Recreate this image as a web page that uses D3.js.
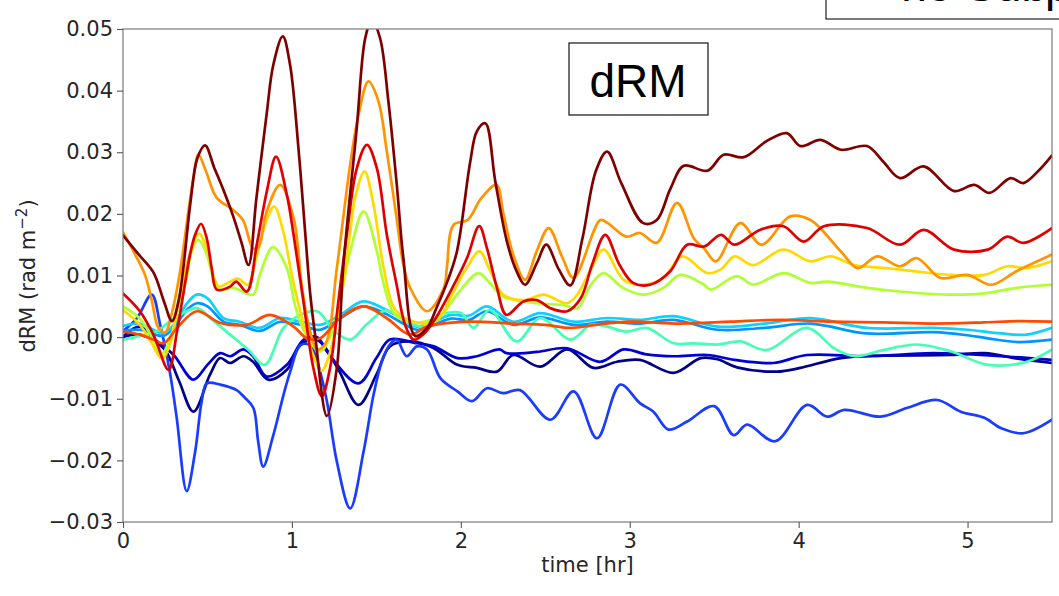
<!DOCTYPE html>
<html>
<head>
<meta charset="utf-8">
<script src="https://cdn.jsdelivr.net/npm/d3@7"></script>
<style>
  html, body { margin: 0; padding: 0; background: #fff; }
  svg { display: block; }
</style>
</head>
<body>
<svg id="chart" width="1059" height="596"></svg>
<script>
// ---- data: [time (hr), dRM (rad m^-2)] ----
const xTicks = [0, 1, 2, 3, 4, 5];
const yTicks = [-0.03, -0.02, -0.01, 0.00, 0.01, 0.02, 0.03, 0.04, 0.05];

const navy = [[0,0.0],[0.1,0.0004],[0.24,-0.0018],[0.33,-0.007],[0.417,-0.0121],[0.515,-0.0061],[0.575,-0.0034],[0.634,-0.0042],[0.713,-0.0031],[0.77,-0.004],[0.86,-0.0069],[0.97,-0.0053],[1.05,-0.0013],[1.147,-0.0004],[1.27,-0.005],[1.394,-0.011],[1.5,-0.0061],[1.58,-0.0015],[1.7,-0.0007],[1.84,-0.0018],[1.98,-0.0045],[2.095,-0.005],[2.214,-0.0056],[2.31,-0.0029],[2.47,-0.0048],[2.63,-0.002],[2.786,-0.005],[2.925,-0.004],[3.06,-0.0037],[3.26,-0.0058],[3.42,-0.0034],[3.52,-0.0036],[3.635,-0.0049],[3.87,-0.0056],[4.01,-0.005],[4.25,-0.0034],[4.5,-0.003],[4.9,-0.0029],[5.1,-0.0026],[5.3,-0.0035],[5.5,-0.0042]];

const darkBlue = [[0,0.0001],[0.1,0.0017],[0.18,-0.0002],[0.3,-0.0029],[0.417,-0.0069],[0.5,-0.0045],[0.575,-0.0026],[0.634,-0.0031],[0.713,-0.002],[0.77,-0.0031],[0.85,-0.0064],[0.97,-0.0045],[1.07,-0.0004],[1.15,0.0],[1.207,-0.0023],[1.394,-0.0075],[1.5,-0.0034],[1.58,-0.0004],[1.74,-0.001],[1.84,-0.0015],[1.98,-0.0034],[2.095,-0.0031],[2.23,-0.002],[2.27,-0.0026],[2.45,-0.0024],[2.63,-0.0018],[2.826,-0.004],[2.964,-0.002],[3.1,-0.0028],[3.26,-0.0031],[3.46,-0.0029],[3.62,-0.0037],[3.85,-0.0042],[4.05,-0.0029],[4.4,-0.0031],[4.8,-0.0026],[5.2,-0.0031],[5.5,-0.0037]];

const blue = [[0,0.001],[0.08,0.003],[0.17,0.0069],[0.22,0.002],[0.28,-0.0061],[0.318,-0.0131],[0.377,-0.025],[0.427,-0.0186],[0.466,-0.0104],[0.496,-0.0075],[0.575,-0.0077],[0.673,-0.0086],[0.72,-0.0098],[0.772,-0.0115],[0.80,-0.0169],[0.83,-0.021],[0.89,-0.0159],[0.95,-0.0094],[0.99,-0.0056],[1.05,-0.0013],[1.107,-0.0013],[1.15,-0.004],[1.207,-0.0104],[1.266,-0.0202],[1.345,-0.0278],[1.424,-0.0186],[1.483,-0.0094],[1.532,-0.004],[1.58,-0.0012],[1.62,-0.0004],[1.68,-0.0031],[1.74,-0.0015],[1.8,-0.002],[1.88,-0.0067],[1.98,-0.0088],[2.066,-0.0104],[2.155,-0.0083],[2.25,-0.0091],[2.35,-0.0086],[2.53,-0.0134],[2.668,-0.0088],[2.806,-0.0164],[2.944,-0.0077],[3.06,-0.0107],[3.14,-0.0121],[3.23,-0.015],[3.34,-0.0137],[3.5,-0.0112],[3.615,-0.0159],[3.695,-0.0142],[3.86,-0.0169],[4.05,-0.011],[4.17,-0.0129],[4.27,-0.0118],[4.485,-0.0129],[4.64,-0.0115],[4.82,-0.0102],[4.96,-0.0121],[5.1,-0.0131],[5.2,-0.0148],[5.33,-0.0156],[5.5,-0.0134]];

const dodger = [[0,0.001],[0.1,0.0012],[0.18,0.0005],[0.24,0.0002],[0.30,0.0015],[0.38,0.0045],[0.437,0.0055],[0.5,0.005],[0.595,0.0025],[0.69,0.002],[0.81,0.001],[0.93,0.0025],[1.05,0.002],[1.167,0.0012],[1.285,0.003],[1.42,0.005],[1.54,0.004],[1.64,0.0025],[1.74,0.0012],[1.84,0.002],[1.94,0.003],[2.05,0.0028],[2.155,0.0042],[2.31,0.002],[2.47,0.0032],[2.668,0.002],[2.865,0.0025],[3.06,0.0022],[3.26,0.0028],[3.52,0.0012],[3.8,0.0015],[4.07,0.0022],[4.4,0.0006],[4.8,0.0008],[5.0,0.0003],[5.12,-0.0002],[5.3,-0.0008],[5.5,-0.0004]];

const cyan = [[0,0.0018],[0.1,0.0022],[0.18,0.0012],[0.24,0.0006],[0.30,0.002],[0.38,0.0055],[0.437,0.0069],[0.5,0.0063],[0.595,0.0031],[0.69,0.0025],[0.81,0.0015],[0.93,0.0031],[1.05,0.0025],[1.167,0.002],[1.285,0.0036],[1.42,0.0058],[1.54,0.0047],[1.64,0.0031],[1.74,0.0017],[1.84,0.0025],[1.94,0.0036],[2.05,0.0035],[2.155,0.005],[2.31,0.0025],[2.47,0.0039],[2.668,0.0025],[2.865,0.0031],[3.06,0.0028],[3.26,0.0034],[3.52,0.0017],[3.8,0.0022],[4.07,0.0031],[4.4,0.0015],[4.8,0.0015],[5.0,0.0012],[5.2,0.0006],[5.35,0.0004],[5.5,0.0015]];

const aqua = [[0,-0.0004],[0.1,0.0002],[0.2,0.001],[0.3,0.003],[0.437,0.0047],[0.52,0.003],[0.634,0.0004],[0.74,-0.002],[0.84,-0.0045],[0.95,0.0015],[1.05,0.0036],[1.15,0.0042],[1.25,0.001],[1.345,-0.0004],[1.44,0.002],[1.54,0.0042],[1.58,0.0042],[1.68,0.0025],[1.78,0.0017],[1.88,0.0036],[2.0,0.0039],[2.075,0.0015],[2.17,0.0044],[2.33,-0.0007],[2.47,0.0031],[2.65,-0.0004],[2.77,0.002],[2.865,0.0017],[2.98,0.0009],[3.1,0.0015],[3.26,-0.001],[3.38,-0.001],[3.52,-0.0012],[3.655,-0.0007],[3.81,-0.0021],[4.05,0.0015],[4.21,-0.0018],[4.33,-0.0031],[4.5,-0.0021],[4.7,-0.0012],[4.9,-0.0023],[5.12,-0.0045],[5.35,-0.004],[5.5,-0.002]];

const lime = [[0,0.005],[0.1,0.003],[0.18,-0.0005],[0.22,-0.003],[0.27,-0.001],[0.33,0.005],[0.377,0.0096],[0.407,0.0139],[0.446,0.0158],[0.496,0.0134],[0.535,0.0096],[0.575,0.0077],[0.654,0.008],[0.77,0.0069],[0.81,0.0101],[0.887,0.0146],[0.97,0.0112],[1.02,0.005],[1.08,0.0005],[1.167,-0.0023],[1.24,0.001],[1.30,0.008],[1.345,0.0139],[1.424,0.0204],[1.503,0.0139],[1.54,0.009],[1.60,0.004],[1.68,0.0025],[1.78,0.0025],[1.88,0.0035],[1.98,0.007],[2.105,0.0104],[2.18,0.0085],[2.25,0.0066],[2.45,0.0055],[2.61,0.0052],[2.69,0.0047],[2.77,0.0085],[2.845,0.0104],[2.96,0.008],[3.08,0.0069],[3.2,0.008],[3.3,0.0101],[3.44,0.0085],[3.48,0.0077],[3.635,0.0099],[3.73,0.0085],[3.91,0.0104],[4.07,0.0088],[4.17,0.009],[4.405,0.008],[4.6,0.0074],[4.88,0.0069],[5.1,0.0071],[5.29,0.008],[5.5,0.0085]];

const yellow = [[0,0.0044],[0.1,0.002],[0.17,-0.001],[0.23,-0.0035],[0.28,-0.001],[0.33,0.006],[0.39,0.013],[0.45,0.0168],[0.50,0.014],[0.54,0.0095],[0.57,0.0082],[0.62,0.0088],[0.68,0.0095],[0.74,0.0085],[0.79,0.013],[0.85,0.019],[0.895,0.0212],[0.95,0.017],[1.0,0.01],[1.07,0.002],[1.127,-0.003],[1.175,-0.0055],[1.22,-0.003],[1.30,0.008],[1.345,0.0171],[1.374,0.0226],[1.43,0.0269],[1.483,0.0215],[1.54,0.0117],[1.60,0.005],[1.66,0.0032],[1.72,0.0025],[1.80,0.0022],[1.87,0.003],[1.95,0.007],[2.03,0.011],[2.11,0.0139],[2.17,0.011],[2.25,0.0069],[2.37,0.006],[2.49,0.0069],[2.63,0.0055],[2.69,0.0069],[2.77,0.011],[2.845,0.0142],[2.964,0.0093],[3.08,0.0085],[3.2,0.0096],[3.31,0.0131],[3.46,0.0104],[3.54,0.011],[3.62,0.0131],[3.73,0.0117],[3.91,0.0142],[4.07,0.0123],[4.19,0.0131],[4.33,0.0117],[4.52,0.0112],[4.68,0.0107],[4.9,0.0101],[5.1,0.0101],[5.235,0.0115],[5.35,0.0112],[5.5,0.0123]];

const orange = [[0,0.0170],[0.07,0.0135],[0.13,0.0101],[0.17,0.006],[0.21,0.0015],[0.25,0.0008],[0.29,0.004],[0.338,0.0107],[0.387,0.0204],[0.417,0.0258],[0.446,0.0296],[0.49,0.027],[0.555,0.0226],[0.65,0.0207],[0.71,0.019],[0.77,0.0144],[0.80,0.0145],[0.851,0.0204],[0.93,0.0247],[1.01,0.0193],[1.06,0.008],[1.107,0.001],[1.15,-0.002],[1.2,-0.001],[1.266,0.0112],[1.345,0.028],[1.394,0.036],[1.453,0.0415],[1.512,0.0383],[1.562,0.0301],[1.62,0.0193],[1.66,0.0117],[1.7,0.008],[1.8,0.0042],[1.9,0.008],[1.917,0.0112],[1.957,0.0182],[2.04,0.019],[2.12,0.0225],[2.21,0.0247],[2.253,0.0199],[2.31,0.0134],[2.38,0.0093],[2.45,0.014],[2.52,0.0177],[2.6,0.013],[2.668,0.0096],[2.826,0.019],[2.87,0.0185],[2.98,0.0163],[3.06,0.0169],[3.16,0.0153],[3.28,0.0218],[3.38,0.016],[3.44,0.0144],[3.51,0.0123],[3.655,0.0185],[3.78,0.015],[3.95,0.0196],[4.07,0.019],[4.25,0.0139],[4.35,0.0112],[4.465,0.0131],[4.6,0.0115],[4.70,0.0128],[4.84,0.0096],[5.0,0.0101],[5.14,0.0085],[5.29,0.0107],[5.5,0.0134]];

const orangeRed = [[0,0.0009],[0.1,0.0004],[0.18,-0.0004],[0.24,-0.001],[0.32,0.0015],[0.437,0.0042],[0.575,0.0023],[0.733,0.002],[0.87,0.0036],[1.01,0.0017],[1.09,-0.0002],[1.167,-0.0002],[1.285,0.0031],[1.424,0.005],[1.56,0.0031],[1.7,0.0004],[1.8,0.0017],[2.04,0.0025],[2.3,0.0022],[2.5,0.002],[2.65,0.0015],[2.8,0.002],[3.0,0.0025],[3.3,0.0022],[3.6,0.0025],[3.9,0.0028],[4.2,0.0025],[4.5,0.0024],[4.8,0.0022],[5.1,0.0024],[5.3,0.0026],[5.5,0.0025]];

const red = [[0,0.0071],[0.1,0.0042],[0.18,0.0004],[0.27,-0.0053],[0.32,0.001],[0.36,0.0075],[0.397,0.0134],[0.427,0.0166],[0.462,0.0184],[0.496,0.016],[0.525,0.0112],[0.555,0.0077],[0.634,0.0082],[0.67,0.009],[0.733,0.0074],[0.792,0.015],[0.851,0.0236],[0.906,0.0293],[0.97,0.0231],[1.01,0.0166],[1.068,0.0058],[1.127,-0.005],[1.177,-0.0096],[1.226,-0.005],[1.275,0.0058],[1.325,0.0166],[1.384,0.0274],[1.444,0.0312],[1.503,0.0274],[1.562,0.0166],[1.62,0.0085],[1.67,0.002],[1.72,-0.0004],[1.78,0.0005],[1.85,0.003],[1.95,0.008],[2.036,0.0128],[2.109,0.018],[2.155,0.0144],[2.214,0.008],[2.27,0.0036],[2.37,0.0058],[2.45,0.006],[2.53,0.0047],[2.63,0.0042],[2.71,0.0063],[2.78,0.012],[2.855,0.0166],[2.94,0.0117],[3.02,0.0088],[3.12,0.0085],[3.24,0.0107],[3.34,0.015],[3.44,0.0147],[3.54,0.0166],[3.62,0.015],[3.77,0.0174],[3.91,0.018],[4.03,0.0155],[4.15,0.018],[4.405,0.0177],[4.6,0.015],[4.74,0.0174],[4.92,0.0142],[5.12,0.0142],[5.235,0.0163],[5.33,0.0153],[5.5,0.0177]];

const maroon = [[0,0.0165],[0.09,0.0135],[0.18,0.0105],[0.24,0.006],[0.29,0.0026],[0.33,0.006],[0.357,0.0112],[0.40,0.022],[0.44,0.029],[0.486,0.0311],[0.54,0.0275],[0.59,0.0242],[0.65,0.0198],[0.70,0.0155],[0.743,0.0117],[0.79,0.0226],[0.85,0.0361],[0.89,0.0442],[0.946,0.0488],[0.989,0.0442],[1.0385,0.0307],[1.078,0.0172],[1.107,0.0074],[1.137,0.0004],[1.207,-0.0128],[1.266,-0.005],[1.303,0.011],[1.384,0.034],[1.434,0.0485],[1.473,0.0515],[1.522,0.0485],[1.571,0.0383],[1.621,0.0247],[1.66,0.0128],[1.73,0.0002],[1.8,0.0015],[1.86,0.005],[1.92,0.009],[1.977,0.0139],[2.056,0.0285],[2.095,0.0334],[2.145,0.0347],[2.204,0.0253],[2.273,0.0155],[2.33,0.0107],[2.38,0.0085],[2.45,0.012],[2.506,0.015],[2.58,0.011],[2.648,0.0084],[2.72,0.016],[2.80,0.027],[2.866,0.0301],[2.95,0.025],[3.08,0.0185],[3.16,0.019],[3.24,0.024],[3.32,0.0278],[3.46,0.027],[3.556,0.0296],[3.675,0.0292],[3.81,0.0318],[3.93,0.0331],[4.01,0.031],[4.13,0.032],[4.25,0.0304],[4.405,0.031],[4.5,0.0285],[4.6,0.0258],[4.74,0.0277],[4.92,0.0237],[5.04,0.0247],[5.13,0.0234],[5.255,0.0258],[5.33,0.025],[5.42,0.027],[5.5,0.0295]];

const seriesNames  = ["navy", "darkBlue", "blue", "dodger", "cyan", "aqua", "lime", "yellow", "orange", "orangeRed", "red", "maroon"];
const seriesData   = [navy, darkBlue, blue, dodger, cyan, aqua, lime, yellow, orange, orangeRed, red, maroon];
const seriesColors = ["#000088", "#0000d4", "#1a3cff", "#0096ff", "#10d0ff", "#45ffb4", "#b0ff30", "#ffda00", "#ff9400", "#ff4a00", "#e00000", "#800000"];

// ---- layout ----
const svg = d3.select("#chart");
const L = 123, R = 1052, T = 29, B = 522;

const x = d3.scaleLinear().domain([0, 5.5]).range([L, R]);
const y = d3.scaleLinear().domain([-0.03, 0.05]).range([B, T]);

svg.append("defs").append("clipPath").attr("id", "plotClip")
  .append("rect").attr("x", L).attr("y", T).attr("width", R - L).attr("height", B - T);

// series
const line = d3.line()
  .x(d => x(d[0])).y(d => y(d[1]))
  .curve(d3.curveCatmullRom.alpha(0.5));

const gLines = svg.append("g").attr("clip-path", "url(#plotClip)");
seriesData.forEach((data, i) => {
  gLines.append("path")
    .datum(data)
    .attr("class", "series " + seriesNames[i])
    .attr("fill", "none")
    .attr("stroke", seriesColors[i])
    .attr("stroke-width", 2.7)
    .attr("stroke-linejoin", "round")
    .attr("stroke-linecap", "round")
    .attr("d", line);
});

// frame
svg.append("rect")
  .attr("x", L).attr("y", T).attr("width", R - L).attr("height", B - T)
  .attr("fill", "none").attr("stroke", "#7a7a7a").attr("stroke-width", 1.2);

// axes
const fmtY = v => d3.format(".2f")(v).replace("-", "\u2212");
const xAxis = d3.axisBottom(x).tickValues(xTicks).tickFormat(d3.format("d")).tickSize(6).tickPadding(5).tickSizeOuter(0);
const yAxis = d3.axisLeft(y).tickValues(yTicks).tickFormat(fmtY).tickSize(6).tickPadding(4).tickSizeOuter(0);

const gx = svg.append("g").attr("transform", `translate(0,${B})`).call(xAxis);
const gy = svg.append("g").attr("transform", `translate(${L},0)`).call(yAxis);
[gx, gy].forEach(g => {
  g.select(".domain").remove();
  g.selectAll(".tick line").attr("stroke", "#555").attr("stroke-width", 1.1);
  g.selectAll(".tick text")
    .attr("fill", "#262626")
    .style("font-family", "'DejaVu Sans', sans-serif")
    .style("font-size", "21px");
});

// axis labels
svg.append("text")
  .attr("x", (L + R) / 2).attr("y", 572)
  .attr("text-anchor", "middle")
  .attr("fill", "#262626")
  .style("font-family", "'DejaVu Sans', sans-serif")
  .style("font-size", "21px")
  .text("time [hr]");

const yl = svg.append("text")
  .attr("transform", "translate(35,276) rotate(-90)")
  .attr("text-anchor", "middle")
  .attr("fill", "#262626")
  .style("font-family", "'DejaVu Sans', sans-serif")
  .style("font-size", "21px");
yl.append("tspan").text("dRM (rad m");
yl.append("tspan").attr("dy", -8).style("font-size", "15px").text("\u22122");
yl.append("tspan").attr("dy", 8).text(")");

// "dRM" box
svg.append("rect")
  .attr("x", 569).attr("y", 43).attr("width", 139).attr("height", 72)
  .attr("fill", "#fff").attr("stroke", "#111").attr("stroke-width", 1.2);
svg.append("text")
  .attr("x", 638).attr("y", 97)
  .attr("text-anchor", "middle")
  .attr("fill", "#000")
  .style("font-family", "'Liberation Sans', Arial, sans-serif")
  .style("font-size", "46px")
  .text("dRM");

// partially visible box at the top right
svg.append("rect")
  .attr("x", 826).attr("y", -60).attr("width", 300).attr("height", 79)
  .attr("fill", "#fff").attr("stroke", "#222").attr("stroke-width", 1.2);
svg.append("text")
  .attr("x", 1047).attr("y", 1)
  .attr("text-anchor", "end")
  .attr("fill", "#000")
  .style("font-family", "'Liberation Sans', Arial, sans-serif")
  .style("font-size", "46px")
  .text("no Sub");
svg.append("text")
  .attr("x", 1045).attr("y", 1)
  .attr("fill", "#000")
  .style("font-family", "'Liberation Sans', Arial, sans-serif")
  .style("font-size", "46px")
  .text("p");
</script>
</body>
</html>
